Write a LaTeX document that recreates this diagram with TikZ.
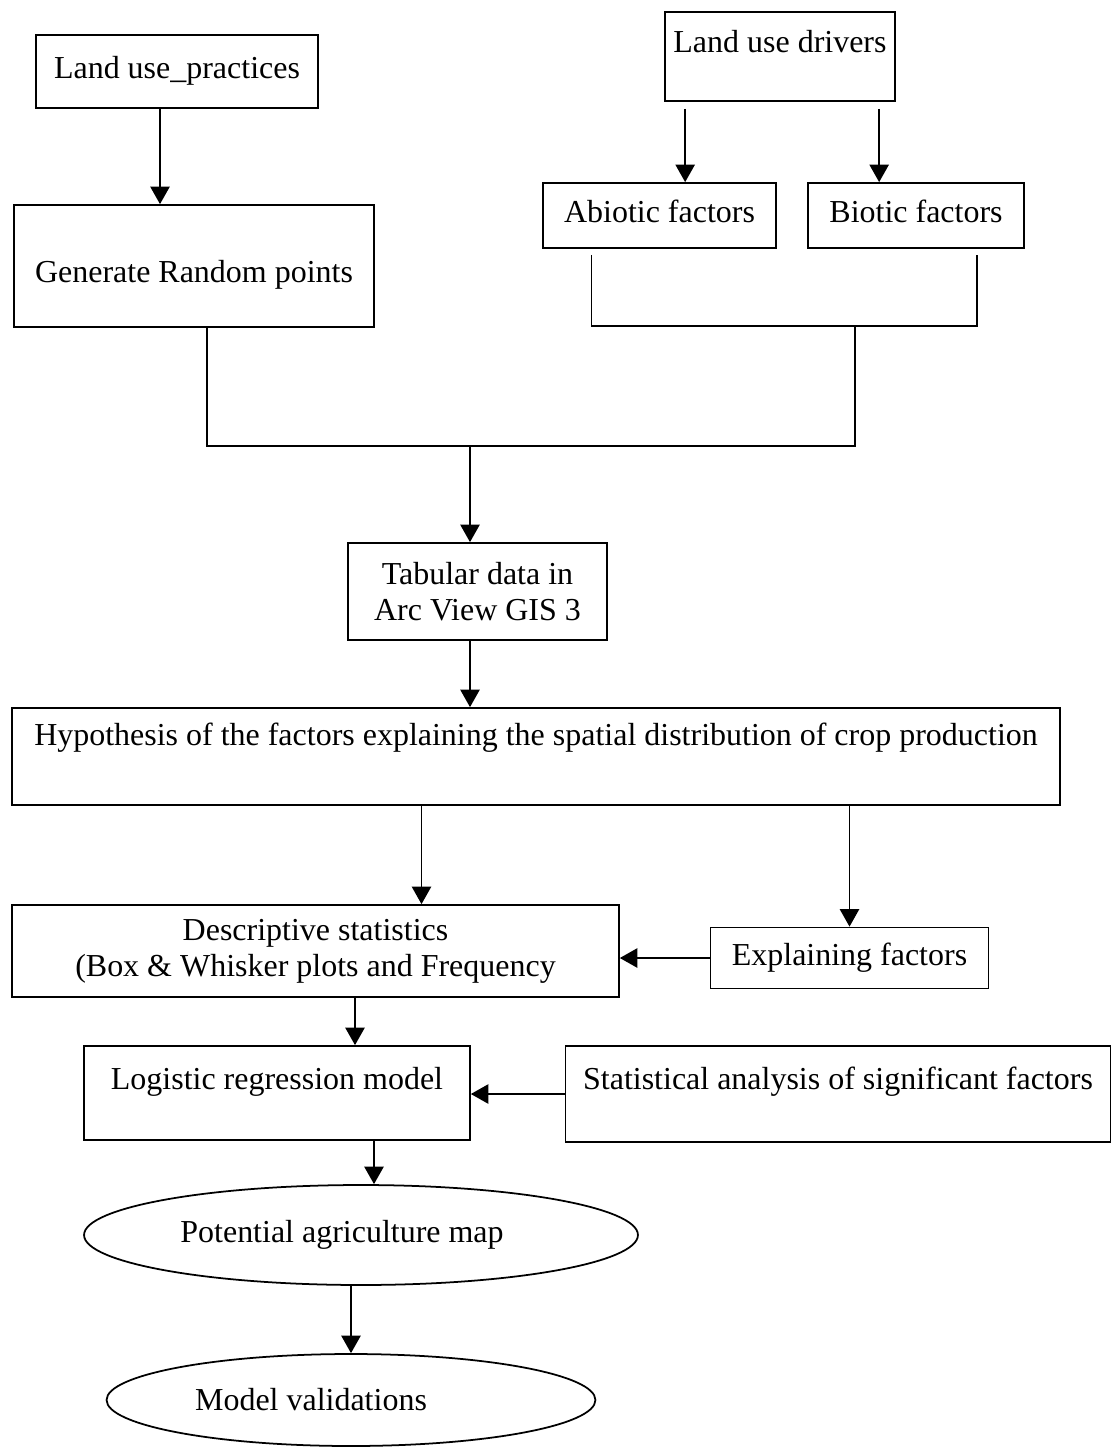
\documentclass[tikz,border=0pt]{standalone}
\usepackage{fontspec}
\setmainfont{Liberation Serif}
\usetikzlibrary{arrows.meta,calc,shapes.geometric}
\begin{document}
\begin{tikzpicture}[x=0.02cm,y=-0.02cm,line width=1pt,
    box/.style={draw,rectangle,inner sep=0pt,align=center,
      font=\fontsize{18.2}{20.5}\selectfont},
    oneline/.style={text height=12.5pt,text depth=4pt},
    oval/.style={draw,ellipse,inner sep=0pt,
      font=\fontsize{18.2}{20.5}\selectfont},
    arr/.style={-{Triangle[length=10pt,width=11pt]}}]
  \useasboundingbox (0,0) rectangle (1112,1449);
  \node[box,oneline,minimum width=5.64cm,minimum height=1.46cm] (lup) at (177,71.5) {Land use\_practices};
  \node[box,oneline,text height=22.7pt,minimum width=7.2cm,minimum height=2.44cm] (grp) at (194,266) {Generate Random points};
  \node[box,oneline,text depth=17.6pt,minimum width=4.6cm,minimum height=1.78cm] (lud) at (780,56.5) {Land use drivers};
  \node[box,oneline,minimum width=4.66cm,minimum height=1.3cm] (abio) at (659.5,215.5) {Abiotic factors};
  \node[box,oneline,minimum width=4.32cm,minimum height=1.3cm] (bio) at (916,215.5) {Biotic factors};
  \node[box,minimum width=5.18cm,minimum height=1.94cm] (tab) at (477.5,591.5) {Tabular data in\\Arc View GIS 3};
  \node[box,oneline,text depth=25pt,minimum width=20.96cm,minimum height=1.94cm] (hyp) at (536,756.5) {Hypothesis of the factors explaining the spatial distribution of crop production};
  \node[box,minimum width=12.14cm,minimum height=1.84cm] (desc) at (315.5,951) {Descriptive statistics\\(Box \& Whisker plots and Frequency};
  \node[box,oneline,minimum width=5.56cm,minimum height=1.22cm] (expl) at (849.5,958) {Explaining factors};
  \node[box,oneline,text depth=16.5pt,minimum width=7.72cm,minimum height=1.88cm] (logi) at (277,1093) {Logistic regression model};
  \node[box,oneline,text depth=17.6pt,minimum width=10.9cm,minimum height=1.92cm] (stat) at (838,1094) {Statistical analysis of significant factors};
  \node[oval,minimum width=11.08cm,minimum height=2cm] (pot) at (361,1235) {Potential agriculture map\kern0.76cm};
  \node[oval,minimum width=9.78cm,minimum height=1.84cm] (mv) at (351,1400) {Model validations\kern1.6cm};
  \coordinate (a1) at ($(lud.south west)+(21,7)$);
  \coordinate (b1) at ($(lud.south west)+(215,7)$);
  \coordinate (fac) at (855,326);
  \coordinate (all) at (470,446);
  \coordinate (d1) at ($(desc.north)+(106,0)$);
  \coordinate (l1) at ($(logi.north)+(78,0)$);
  \coordinate (p1) at ($(logi.south)+(97,0)$);
  \begin{scope}[-]
    \draw ($(abio.south)+(-68,6)$) |- (fac) -| ($(bio.south)+(61,6)$);
    \draw ($(grp.south)+(13,0)$) |- (fac |- all) -- (fac);
  \end{scope}
  \begin{scope}[arr]
    \draw ($(lup.south)+(-17,0)$) -- ($(grp.north)+(-34,0)$);
    \draw (a1) -- (a1 |- abio.north);
    \draw (b1) -- (b1 |- bio.north);
    \draw (all) -- (all |- tab.north);
    \draw (tab.south -| all) -- (all |- hyp.north);
    \draw (hyp.south -| d1) -- (d1);
    \draw (hyp.south -| expl.north) -- (expl.north);
    \draw (expl.west) -- (expl.west -| desc.east);
    \draw (desc.south -| l1) -- (l1);
    \draw (stat.west) -- (stat.west -| logi.east);
    \draw (p1) -- (p1 |- pot.north);
    \draw (pot.south -| mv.north) -- (mv.north);
  \end{scope}
\end{tikzpicture}
\end{document}
